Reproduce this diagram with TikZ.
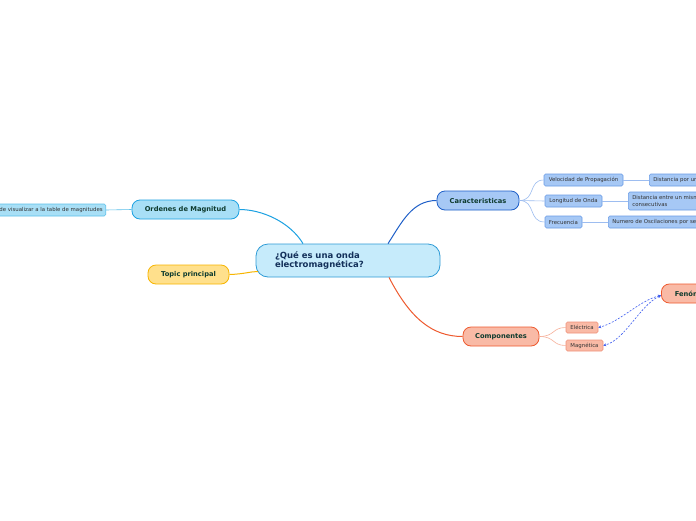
\documentclass[tikz,border=0pt]{standalone}
\usepackage{fontspec}
\setmainfont{DejaVu Sans}
\usetikzlibrary{arrows.meta}
\definecolor{cfill}{HTML}{C6EBFB}\definecolor{cdraw}{HTML}{2E9BD6}
\definecolor{ofill}{HTML}{A8DFF6}\definecolor{odraw}{HTML}{1BA1E2}\definecolor{oleaf}{HTML}{5BC0EA}
\definecolor{tfill}{HTML}{FFE08C}\definecolor{tdraw}{HTML}{F7B500}
\definecolor{kfill}{HTML}{A6C8F5}\definecolor{kdraw}{HTML}{1E5FC8}\definecolor{kleaf}{HTML}{6A9BE6}\definecolor{kline}{HTML}{9DBDF0}
\definecolor{pfill}{HTML}{F9BAA6}\definecolor{pdraw}{HTML}{EE5A2F}\definecolor{pleaf}{HTML}{F0917A}\definecolor{pline}{HTML}{F7B09A}
\definecolor{maintext}{HTML}{0E3B2E}\definecolor{navy}{HTML}{13305A}\definecolor{leaftext}{HTML}{333333}
\definecolor{dashblue}{HTML}{3B5BF0}
\tikzset{
  mainbox/.style={draw, line width=0.8pt, rounded corners=8pt, font=\bfseries\fontsize{6.7}{7}\selectfont, text=maintext, inner sep=0pt},
  leafbox/.style={draw, line width=0.6pt, rounded corners=1.5pt, font=\fontsize{5.4}{6.4}\selectfont, text=leaftext, inner sep=0pt},
  conn/.style={line width=1pt},
  thin/.style={line width=0.6pt},
  dasharrow/.style={draw=dashblue, line width=0.6pt, dash pattern=on 2pt off 1.5pt, {Stealth[length=3pt,width=3pt]}-{Stealth[length=3pt,width=3pt]}}
}
\begin{document}
\begin{tikzpicture}[x=1pt,y=-1pt]
\useasboundingbox (0,0) rectangle (696,520);
\clip (0,0) rectangle (696,520);
\fill[white] (0,0) rectangle (696,520);
% central
\node[draw=cdraw, fill=cfill, line width=0.8pt, rounded corners=12pt, minimum width=184pt, minimum height=33pt, text width=146pt, inner xsep=19pt, inner ysep=0pt, align=left, font=\bfseries\fontsize{8.5}{9.5}\selectfont, text=navy] (c) at (348,260.5) {¿Qué es una onda\\electromagnética?};
% ordenes
\node[mainbox, draw=odraw, fill=ofill, minimum width=107pt, minimum height=19pt] (o) at (185.5,209.5) {Ordenes de Magnitud};
\node[leafbox, draw=oleaf, fill=ofill, minimum height=12pt, inner xsep=3pt, anchor=east] (ol) at (106,210) {Se puede visualizar a la table de magnitudes};
% topic
\node[mainbox, draw=tdraw, fill=tfill, minimum width=81pt, minimum height=19pt] (t) at (188.5,274.5) {Topic principal};
% caracteristicas
\node[mainbox, draw=kdraw, fill=kfill, minimum width=82pt, minimum height=19pt] (k) at (478,200.5) {Caracteristicas};
\node[leafbox, draw=kleaf, fill=kfill, minimum width=79pt, minimum height=12pt] (v) at (583.5,180) {Velocidad de Propagación};
\node[leafbox, draw=kleaf, fill=kfill, minimum width=57pt, minimum height=12pt] (l) at (573.5,201) {Longitud de Onda};
\node[leafbox, draw=kleaf, fill=kfill, minimum width=37pt, minimum height=12pt] (f) at (563.5,222) {Frecuencia};
\node[leafbox, draw=kleaf, fill=kfill, minimum height=12pt, inner xsep=4pt, anchor=west] (v2) at (649,180) {Distancia por unidad de tiempo};
\node[leafbox, draw=kleaf, fill=kfill, minimum height=18pt, inner xsep=4pt, align=left, anchor=west] (l2) at (628,201) {Distancia entre un mismo punto de dos ondas\\consecutivas};
\node[leafbox, draw=kleaf, fill=kfill, minimum height=12pt, inner xsep=4pt, anchor=west] (f2) at (608,222) {Numero de Oscilaciones por segundo};
% componentes
\node[mainbox, draw=pdraw, fill=pfill, minimum width=76pt, minimum height=19pt] (cm) at (501,336.5) {Componentes};
\node[leafbox, draw=pleaf, fill=pfill, minimum width=32pt, minimum height=11pt] (e) at (582,327.5) {Eléctrica};
\node[leafbox, draw=pleaf, fill=pfill, minimum width=37pt, minimum height=11pt] (m) at (584.5,345.5) {Magnética};
\node[mainbox, draw=pdraw, fill=pfill, minimum width=70pt, minimum height=19pt, anchor=west] (fe) at (661,293.5) {Fenómenos};
% connectors
\draw[conn, kdraw] ([xshift=40pt]c.north) .. controls (402,222) and (412,200.5) .. (k.west);
\draw[conn, odraw] ([xshift=-45pt]c.north) .. controls (290,222) and (262,209.5) .. (o.east);
\draw[conn, tdraw] (t.east) .. controls (245,274) and (250,271.5) .. ([xshift=-90pt,yshift=-11pt]c.center);
\draw[conn, pdraw] ([xshift=41pt]c.south) .. controls (410,318) and (432,336.5) .. (cm.west);
\draw[thin, oleaf] (o.west) -- (ol.east);
\draw[thin, kline] (k.east) .. controls (536,200.5) and (528,180) .. (v.west);
\draw[thin, kline] (k.east) -- (l.west);
\draw[thin, kline] (k.east) .. controls (536,200.5) and (528,222) .. (f.west);
\draw[thin, kline] (v.east) -- (v2.west);
\draw[thin, kline] (l.east) -- (l2.west);
\draw[thin, kline] (f.east) -- (f2.west);
\draw[thin, pline] (cm.east) .. controls (555,336.5) and (552,327.5) .. (e.west);
\draw[thin, pline] (cm.east) .. controls (555,336.5) and (552,345.5) .. (m.west);
\draw[dasharrow] ([yshift=-2pt]fe.west) .. controls (640,300) and (620,322) .. (e.east);
\draw[dasharrow] ([yshift=-2pt]fe.west) .. controls (640,305) and (625,340) .. (m.east);
\end{tikzpicture}
\end{document}
